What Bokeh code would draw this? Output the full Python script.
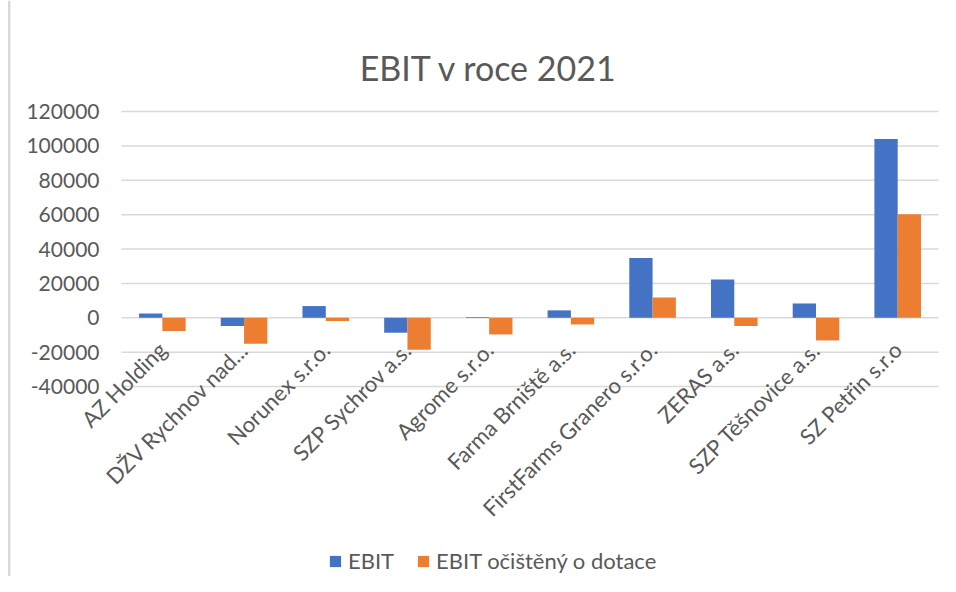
from math import pi
from bokeh.plotting import figure
from bokeh.models import (ColumnDataSource, FixedTicker, NumeralTickFormatter,
                          Legend, LegendItem, Label, Range1d, Span)
from bokeh.transform import dodge
from bokeh.embed import file_html
from bokeh.resources import INLINE

categories = ["AZ Holding", "DŽV Rychnov nad...", "Norunex s.r.o.", "SZP Sychrov a.s.",
              "Agrome s.r.o.", "Farma Brniště a.s.", "FirstFarms Granero s.r.o.",
              "ZERAS a.s.", "SZP Těšnovice a.s.", "SZ Petřin s.r.o"]
ebit = [2500, -4800, 6800, -8700, 400, 4300, 34700, 22300, 8300, 104000]
ebit_ocisteny = [-7700, -15100, -1900, -18600, -9700, -3900, 11800, -4800, -13200, 60200]
y_ticks = [-40000, -20000, 0, 20000, 40000, 60000, 80000, 100000, 120000]
series_names = ["EBIT", "EBIT očištěný o dotace"]
chart_title = "EBIT v roce 2021"

FONT = "Lato"
TXT = "#595959"
GRID = "#D9D9D9"

x_idx = list(range(len(categories)))
src = ColumnDataSource(dict(x=x_idx, cat=categories, ebit=ebit, ocist=ebit_ocisteny))

p = figure(width=940, height=576, output_backend="svg", toolbar_location=None, title=None,
           x_range=Range1d(-1.981, 9.524), y_range=Range1d(-150537, 184580),
           min_border_left=0, min_border_right=0, min_border_top=0, min_border_bottom=0)
p.outline_line_color = None
p.background_fill_color = "white"
p.border_fill_color = "white"
p.xgrid.grid_line_color = None
p.ygrid.grid_line_color = None

# horizontal gridlines, only across the category area
p.segment(x0=[x_idx[0] - 0.5] * len(y_ticks), x1=[x_idx[-1] + 0.5] * len(y_ticks),
          y0=y_ticks, y1=y_ticks, line_color=GRID, line_width=1.5)

r1 = p.vbar(x=dodge("x", -0.1425), top="ebit", width=0.285,
            source=src, fill_color="#4472C4", line_color=None)
r2 = p.vbar(x=dodge("x", 0.1425), top="ocist", width=0.285,
            source=src, fill_color="#ED7D31", line_color=None)

xa = p.xaxis[0]
xa.fixed_location = 0
xa.ticker = FixedTicker(ticks=x_idx)
xa.major_label_overrides = {i: c for i, c in zip(x_idx, categories)}
xa.axis_line_color = None
xa.major_tick_line_color = None
xa.minor_tick_line_color = None
xa.major_tick_out = 0
xa.major_tick_in = 0
xa.major_label_orientation = pi / 4
xa.major_label_standoff = 28
xa.major_label_text_font = FONT
xa.major_label_text_font_size = "22px"
xa.major_label_text_color = TXT

ya = p.yaxis[0]
ya.fixed_location = x_idx[0] - 0.5
ya.ticker = FixedTicker(ticks=y_ticks)
ya.formatter = NumeralTickFormatter(format="0")
ya.axis_line_color = None
ya.major_tick_line_color = None
ya.minor_tick_line_color = None
ya.major_tick_out = 0
ya.major_tick_in = 0
ya.major_label_standoff = 22
ya.major_label_text_font = FONT
ya.major_label_text_font_size = "21px"
ya.major_label_text_color = TXT

# chart-area border on the left
p.add_layout(Span(location=-1.874, dimension="height", line_color=GRID, line_width=2.5))

p.add_layout(Label(x=488.5, y=509, x_units="screen", y_units="screen", text=chart_title,
                   text_align="center", text_baseline="alphabetic",
                   text_font=FONT, text_font_size="34px", text_color=TXT))

legend = Legend(items=[LegendItem(label=series_names[0], renderers=[r1]),
                       LegendItem(label=series_names[1], renderers=[r2])],
                orientation="horizontal", location=(328, 2), margin=0, padding=0,
                spacing=22, glyph_width=14, glyph_height=14, label_standoff=6,
                label_text_font=FONT, label_text_font_size="22px", label_text_color=TXT,
                border_line_color=None, background_fill_alpha=0)
p.add_layout(legend)

open("out.html", "w").write(file_html(p, INLINE))
